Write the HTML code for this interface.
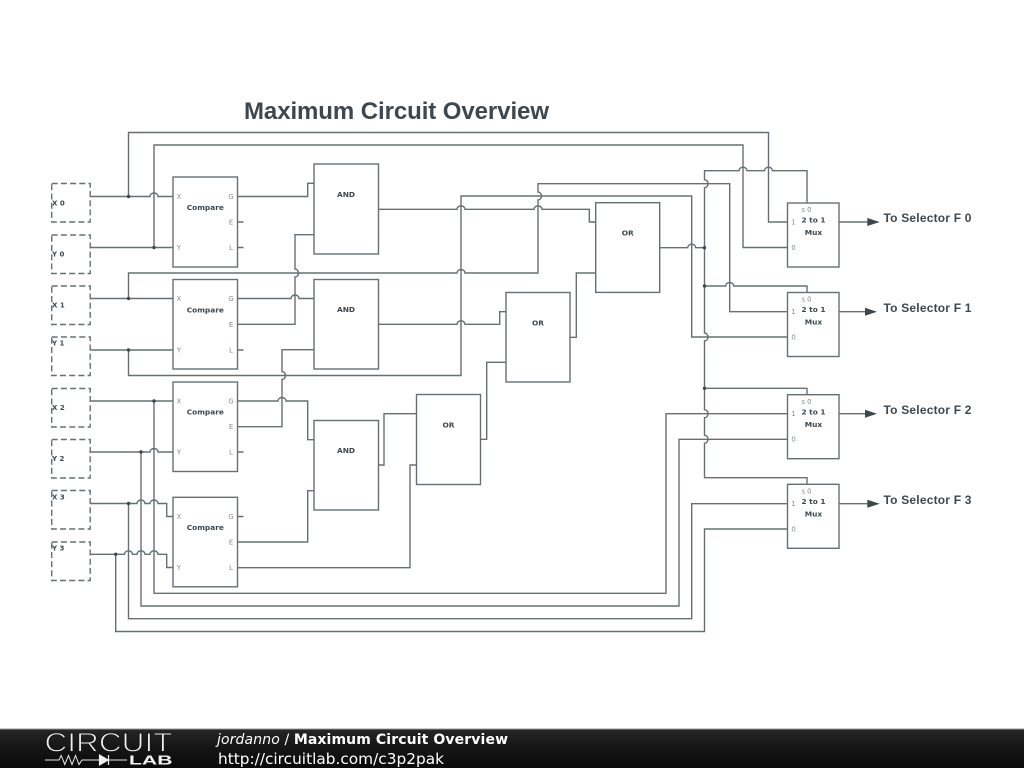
<!DOCTYPE html>
<html><head><meta charset="utf-8"><style>
html,body{margin:0;padding:0;background:#fff;width:1024px;height:768px;overflow:hidden}
svg{display:block;font-family:"Liberation Sans",sans-serif;fill:#3d474d}
.w,.b{fill:none;stroke:#667074;stroke-width:1.4}
.d{fill:none;stroke:#667074;stroke-width:1.4;stroke-dasharray:6 3.2}
.cl text{font-family:"DejaVu Sans",sans-serif;font-size:7.4px;font-weight:bold;text-anchor:middle;fill:#3d474d}
.p text{font-family:"DejaVu Sans",sans-serif;font-size:6.8px;fill:#858b8e;text-anchor:middle}
.i text{font-family:"DejaVu Sans",sans-serif;font-size:7px;font-weight:bold;fill:#3d474d}
.o text{font-size:12px;font-weight:bold;letter-spacing:.2px;fill:#3d474d}
</style></head><body>
<svg width="1024" height="768" viewBox="0 0 1024 768" xmlns="http://www.w3.org/2000/svg">
<defs><linearGradient id="g" x1="0" y1="0" x2="0" y2="1"><stop offset="0" stop-color="#262626"/><stop offset=".5" stop-color="#151515"/><stop offset="1" stop-color="#0a0a0a"/></linearGradient></defs>
<text x="244" y="119" font-size="24" font-weight="bold" textLength="305" fill="#3d474d">Maximum Circuit Overview</text>

<g class="d">
<rect x="51.7" y="183.5" width="38.5" height="38.5"/>
<rect x="51.7" y="235" width="38.5" height="38.5"/>
<rect x="51.7" y="286" width="38.5" height="38.5"/>
<rect x="51.7" y="337" width="38.5" height="38.5"/>
<rect x="51.7" y="388.5" width="38.5" height="38.5"/>
<rect x="51.7" y="439.5" width="38.5" height="38.5"/>
<rect x="51.7" y="490.5" width="38.5" height="38.5"/>
<rect x="51.7" y="542" width="38.5" height="38.5"/>
</g>
<g class="i">
<text x="52" y="205.5">X 0</text>
<text x="52" y="256.5">Y 0</text>
<text x="52" y="307.5">X 1</text>
<text x="52" y="345.5">Y 1</text>
<text x="52" y="410">X 2</text>
<text x="52" y="461">Y 2</text>
<text x="52" y="499.5">X 3</text>
<text x="52" y="550.5">Y 3</text>
</g>

<g class="b">
<rect x="173" y="177" width="64.5" height="90"/>
<rect x="173" y="279.5" width="64.5" height="89.5"/>
<rect x="173" y="382" width="64.5" height="89.5"/>
<rect x="173" y="497.3" width="64.5" height="89.5"/>
<rect x="314" y="164" width="64.5" height="90"/>
<rect x="314" y="279.5" width="64.5" height="89.5"/>
<rect x="314" y="420.5" width="64.5" height="89.5"/>
<rect x="416.5" y="394.5" width="64" height="90"/>
<rect x="506" y="292.5" width="64" height="89.5"/>
<rect x="595.7" y="202.7" width="64" height="89.7"/>
<rect x="787.5" y="203" width="51.5" height="64"/>
<rect x="787.5" y="292.5" width="51.5" height="64"/>
<rect x="787.5" y="394.7" width="51.5" height="64"/>
<rect x="787.5" y="484.3" width="51.5" height="64"/>
</g>

<g class="w">
<path d="M90 196.5H150a4 3.5 0 0 1 8 0H173"/>
<path d="M128.5 196.5V132.5H768.5V222H787.5"/>
<path d="M90 247.5H173"/>
<path d="M154 247.5V145H743V247.5H787.5"/>
<path d="M90 298.5H173"/>
<path d="M128.5 298.5V273H457a4 3.5 0 0 1 8 0H538V200a3.5 4 0 0 0 0 -8V183.7H729.7V311.7H787.5"/>
<path d="M90 350H173"/>
<path d="M128.5 350V375.5H461V196H691.7V337H787.5"/>
<path d="M90 401H173"/>
<path d="M154 401V593.3H666V413.7H787.5"/>
<path d="M90 452H150a4 3.5 0 0 1 8 0H173"/>
<path d="M141 452V606H679V439.3H787.5"/>
<path d="M90 503.5H137a4 3.5 0 0 1 8 0H150a4 3.5 0 0 1 8 0H166.7V516.5H173"/>
<path d="M128.5 503.5V618.7H691.7V503.7H787.5"/>
<path d="M90 554.3H124.5a4 3.5 0 0 1 8 0H137a4 3.5 0 0 1 8 0H150a4 3.5 0 0 1 8 0H166.7V567.5H173"/>
<path d="M115.7 554.3V631.5H704.5V529H787.5"/>
<path d="M237.5 196.5H307.7V183.3H314"/>
<path d="M314 234.7H295V269a3.5 4 0 0 1 0 8V324.3H237.5"/>
<path d="M237.5 298.5H291a4 3.5 0 0 1 8 0H314"/>
<path d="M314 349.7H282V371.5a3.5 4 0 0 1 0 8V426.7H237.5"/>
<path d="M237.5 401H278a4 3.5 0 0 1 8 0H307.7V439.7H314"/>
<path d="M237.5 542H307.7V490.7H314"/>
<path d="M237.5 567.7H410V465H416.5"/>
<path d="M237.5 222H243.5M237.5 247.5H243.5M237.5 350H243.5M237.5 452H243.5M237.5 516.5H243.5"/>
<path d="M378.7 209.3H457a4 3.5 0 0 1 8 0H534a4 3.5 0 0 1 8 0H589.3V222H595.7"/>
<path d="M378.7 324.3H457a4 3.5 0 0 1 8 0H499.7V311.7H506"/>
<path d="M378.7 465H384V413.7H416.5"/>
<path d="M480.5 439.3H486.7V362.3H506"/>
<path d="M570 337.3H576.3V273H595.7"/>
<path d="M659.7 247.7H687.7a4 3.5 0 0 1 8 0H704.5"/>
<path d="M807 203V170.7H772.5a4 3.5 0 0 0 -8 0H747a4 3.5 0 0 0 -8 0H704.5V179.7a3.5 4 0 0 1 0 8V333a3.5 4 0 0 1 0 8V409.7a3.5 4 0 0 1 0 8V435.3a3.5 4 0 0 1 0 8V477.7H807V484.3"/>
<path d="M704.5 286H725.7a4 3.5 0 0 1 8 0H807V292.5"/>
<path d="M704.5 388.3H807V394.7"/>
<path d="M839 222H868M839 311.7H866M839 413.7H866M839 503.7H868"/>
</g>

<g fill="#3d474d">
<circle cx="128.5" cy="196.5" r="1.7"/><circle cx="154" cy="247.5" r="1.7"/>
<circle cx="128.5" cy="298.5" r="1.7"/><circle cx="128.5" cy="350" r="1.7"/>
<circle cx="154" cy="401" r="1.7"/><circle cx="141" cy="452" r="1.7"/>
<circle cx="128.5" cy="503.5" r="1.7"/><circle cx="115.7" cy="554.3" r="1.7"/>
<circle cx="704.5" cy="247.7" r="1.7"/><circle cx="704.5" cy="286" r="1.7"/><circle cx="704.5" cy="388.3" r="1.7"/>
<path d="M867.3 218L879.7 222L867.3 226Z"/>
<path d="M865 307.7L877 311.7L865 315.7Z"/>
<path d="M865 409.7L877 413.7L865 417.7Z"/>
<path d="M867.3 499.7L879.7 503.7L867.3 507.7Z"/>
</g>

<g class="cl">
<text x="205.3" y="210">Compare</text>
<text x="205.3" y="312.5">Compare</text>
<text x="205.3" y="414.5">Compare</text>
<text x="205.3" y="530">Compare</text>
<text x="346" y="197">AND</text>
<text x="346" y="312">AND</text>
<text x="346" y="453">AND</text>
<text x="448.5" y="427.5">OR</text>
<text x="538" y="325.5">OR</text>
<text x="627.7" y="235.5">OR</text>
<text x="813.5" y="222.5">2 to 1</text><text x="813.5" y="235">Mux</text>
<text x="813.5" y="312">2 to 1</text><text x="813.5" y="324.5">Mux</text>
<text x="813.5" y="414.5">2 to 1</text><text x="813.5" y="427">Mux</text>
<text x="813.5" y="504">2 to 1</text><text x="813.5" y="516.5">Mux</text>
</g>
<g class="p">
<text x="179" y="199">X</text><text x="231" y="199">G</text><text x="231" y="224.5">E</text><text x="179" y="250">Y</text><text x="231" y="250">L</text>
<text x="179" y="301">X</text><text x="231" y="301">G</text><text x="231" y="327">E</text><text x="179" y="352.5">Y</text><text x="231" y="352.5">L</text>
<text x="179" y="403.5">X</text><text x="231" y="403.5">G</text><text x="231" y="429">E</text><text x="179" y="454.5">Y</text><text x="231" y="454.5">L</text>
<text x="179" y="519">X</text><text x="231" y="519">G</text><text x="231" y="544.5">E</text><text x="179" y="570">Y</text><text x="231" y="570">L</text>
<text x="806.5" y="212">s 0</text><text x="793.5" y="224.5">1</text><text x="793.5" y="250">0</text>
<text x="806.5" y="301.5">s 0</text><text x="793.5" y="314">1</text><text x="793.5" y="339.5">0</text>
<text x="806.5" y="404">s 0</text><text x="793.5" y="416">1</text><text x="793.5" y="441.5">0</text>
<text x="806.5" y="493.5">s 0</text><text x="793.5" y="506">1</text><text x="793.5" y="531.5">0</text>
</g>
<g class="o">
<text x="883.5" y="222">To Selector F 0</text>
<text x="883.5" y="312">To Selector F 1</text>
<text x="883.5" y="414">To Selector F 2</text>
<text x="883.5" y="504">To Selector F 3</text>
</g>

<rect x="0" y="729" width="1024" height="39" fill="url(#g)"/>
<rect x="0" y="728.5" width="1024" height="1" fill="#999"/>
<text x="44.5" y="751.5" font-size="27" textLength="128" lengthAdjust="spacingAndGlyphs" fill="#f0f0f0" stroke="#1a1a1a" stroke-width="1">CIRCUIT</text>
<path d="M45 760H59L61.200 755.500L64.800 764.500L68.500 755.500L72 764.500L75.500 755.500L79 764.500L82 760H99M108 760H127" fill="none" stroke="#e8e8e8" stroke-width="1"/>
<path d="M99.500 755V765L108 760Z M108.500 755V765" fill="#f0f0f0" stroke="#f0f0f0" stroke-width="1.200"/>
<text x="129" y="764.5" font-size="13" font-weight="bold" textLength="43.5" lengthAdjust="spacingAndGlyphs" fill="#f2f2f2">LAB</text>
<text x="217" y="744" font-size="14" textLength="291" style="font-family:'DejaVu Sans',sans-serif;fill:#fff"><tspan font-style="italic">jordanno</tspan> / <tspan font-weight="bold">Maximum Circuit Overview</tspan></text>
<text x="218" y="764" font-size="15" textLength="226" lengthAdjust="spacingAndGlyphs" style="font-family:'DejaVu Sans',sans-serif;fill:#fff">http://circuitlab.com/c3p2pak</text>
</svg>
</body></html>
